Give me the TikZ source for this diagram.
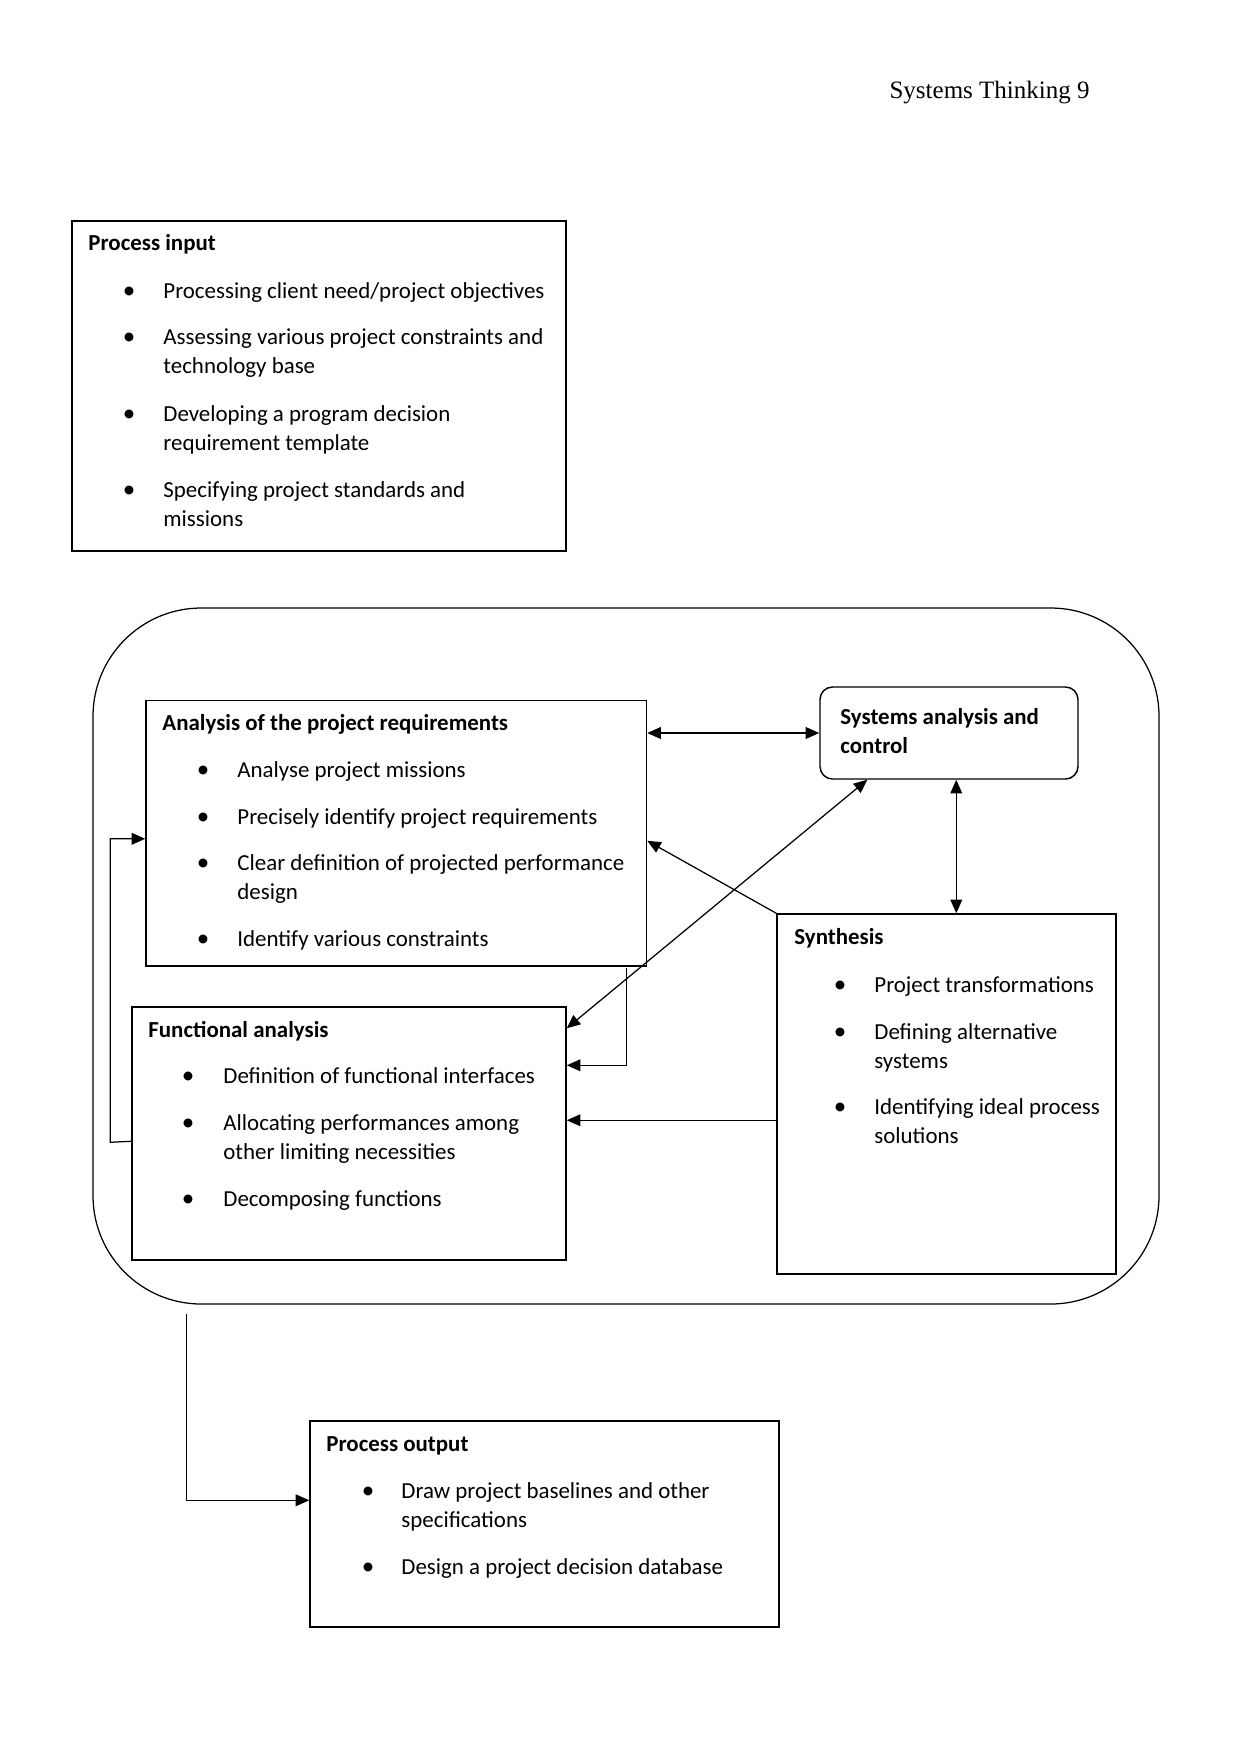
\documentclass[tikz,border=0pt]{standalone}
\usepackage{fontspec}
\setmainfont{Carlito}
\newfontfamily\hdrfont{Liberation Serif}
\usetikzlibrary{arrows.meta,calc,fit}
\newcommand\bpt[3]{\node[bul] (#1) at (#2,#3) {•};}
\begin{document}
\begin{tikzpicture}[x=0.48pt,y=-0.48pt,
  >={Triangle[length=6.5pt,width=5.6pt]},
  box/.style={draw,line width=0.7pt,inner sep=0pt},
  rbox/.style={box,rounded corners=6pt},
  outerbox/.style={draw,line width=0.6pt,inner sep=0pt,rounded corners=52pt},
  txt/.style={anchor=base west,inner sep=0pt,font=\fontsize{11pt}{13pt}\selectfont},
  ttl/.style={anchor=base west,inner sep=0pt,font=\fontsize{11pt}{13pt}\selectfont\bfseries},
  bul/.style={anchor=base,inner sep=0pt,font=\fontsize{12pt}{13pt}\selectfont},
  conn/.style={line width=0.6pt}
]
\useasboundingbox (0,0) rectangle (1241,1754);

% header
\node[anchor=base east,inner sep=0pt,font=\hdrfont\fontsize{12pt}{14pt}\selectfont] (hdr) at (1090,98) {Systems Thinking 9};

% Process input
\node[box,fit={(72,221) (566,551)}] (pin) {};
\node[ttl] (pint) at (88,250) {Process input};
\bpt{pb1}{129}{298}\bpt{pb2}{129}{344}\bpt{pb3}{129}{421}\bpt{pb4}{129}{497}
\node[txt] (p1) at (163,298) {Processing client need/project objectives};
\node[txt] (p2) at (163,344) {Assessing various project constraints and};
\node[txt] (p2b) at (163,373) {technology base};
\node[txt] (p3) at (163,421) {Developing a program decision};
\node[txt] (p3b) at (163,450) {requirement template};
\node[txt] (p4) at (163,497) {Specifying project standards and};
\node[txt] (p4b) at (163,526) {missions};

% big rounded frame
\node[outerbox,fit={(93,608) (1159,1304)}] (big) {};

% Analysis
\node[box,fit={(146,700.5) (646.5,966)}] (ana) {};
\node[ttl] (anat) at (162,730) {Analysis of the project requirements};
\bpt{ab1}{203}{777}\bpt{ab2}{203}{824}\bpt{ab3}{203}{870}\bpt{ab4}{203}{946}
\node[txt] (a1) at (237,777) {Analyse project missions};
\node[txt] (a2) at (237,824) {Precisely identify project requirements};
\node[txt] (a3) at (237,870) {Clear definition of projected performance};
\node[txt] (a3b) at (237,899) {design};
\node[txt] (a4) at (237,946) {Identify various constraints};

% Systems analysis and control
\node[rbox,fit={(820,687) (1078,779)}] (sys) {};
\node[ttl] (syst1) at (840,724) {Systems analysis and};
\node[ttl] (syst2) at (840,753) {control};

% Functional analysis
\node[box,fit={(132,1007) (566,1260)}] (fun) {};
\node[ttl] (funt) at (148,1037) {Functional analysis};
\bpt{fb1}{188}{1083}\bpt{fb2}{188}{1130}\bpt{fb3}{188}{1206}
\node[txt] (f1) at (223,1083) {Definition of functional interfaces};
\node[txt] (f2) at (223,1130) {Allocating performances among};
\node[txt] (f2b) at (223,1159) {other limiting necessities};
\node[txt] (f3) at (223,1206) {Decomposing functions};

% Synthesis
\node[box,fit={(777,914) (1116,1274)}] (syn) {};
\node[ttl] (synt) at (794,944) {Synthesis};
\bpt{sb1}{840}{992}\bpt{sb2}{840}{1039}\bpt{sb3}{840}{1114}
\node[txt] (s1t) at (874,992) {Project transformations};
\node[txt] (s2t) at (874,1039) {Defining alternative};
\node[txt] (s2b) at (874,1068) {systems};
\node[txt] (s3t) at (874,1114) {Identifying ideal process};
\node[txt] (s3b) at (874,1143) {solutions};

% Process output
\node[box,fit={(310,1421) (779,1627)}] (out) {};
\node[ttl] (outt) at (326,1451) {Process output};
\bpt{ob1}{368}{1498}\bpt{ob2}{368}{1574}
\node[txt] (o1) at (401,1498) {Draw project baselines and other};
\node[txt] (o1b) at (401,1527) {specifications};
\node[txt] (o2) at (401,1574) {Design a project decision database};

% connectors
\draw[conn,<->] (ana.east |- sys.west) -- (sys.west);
\draw[conn,->] (syn.north west) -- ($(ana.north east)+(0,141)$);
\draw[conn,<->] ($(fun.north east)+(0,22)$) -- ($(sys.south west)+(48,0)$);
\draw[conn,<->] ($(sys.south west)+(137,0)$) coordinate (v1) -- (v1 |- syn.north);
\draw[conn,->] ($(ana.south west)+(481,1)$) |- ($(fun.north east)+(0,59)$);
\draw[conn,->] ($(syn.north west)+(0,207)$) coordinate (h1) -- (h1 -| fun.east);
\draw[conn,->] ($(fun.north west)+(0,135)$) -- ++(-21,1) |- ($(ana.north west)+(0,139)$);
\draw[conn,->] ($(big.south west)+(94,9)$) |- ($(out.north west)+(0,80)$);
\end{tikzpicture}
\end{document}
